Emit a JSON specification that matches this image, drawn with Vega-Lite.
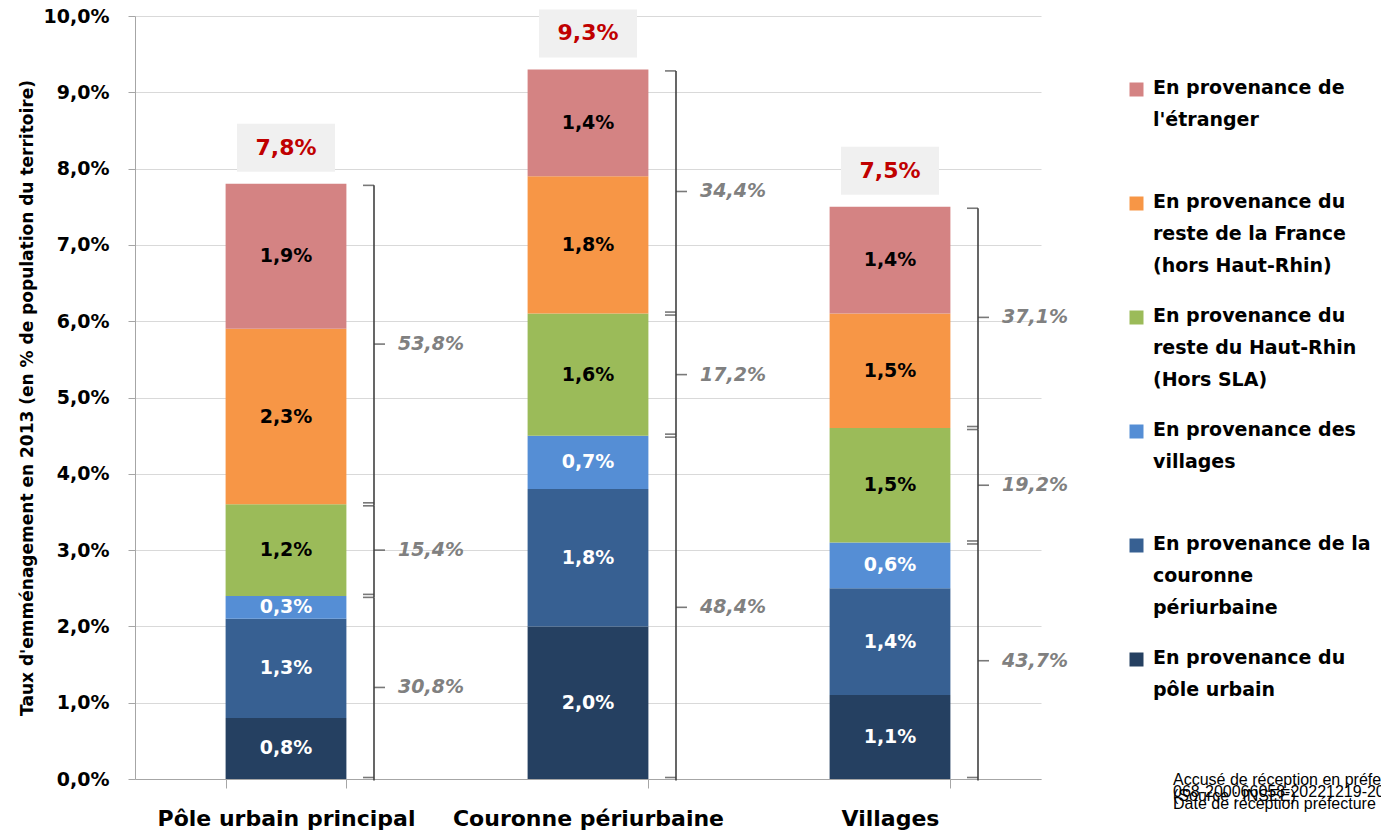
{
  "$schema": "https://vega.github.io/schema/vega-lite/v6.json",
  "width": 906,
  "height": 763,
  "autosize": {"type": "none"},
  "padding": {"left": 135, "top": 16, "right": 340, "bottom": 53},
  "background": "white",
  "title": {
    "text": ["Accusé de réception en préfecture", "068-200066058-20221219-2022-12-DE", "Date de réception préfecture"],
    "subtitle": "(Source : INSEE)",
    "orient": "bottom",
    "anchor": "end",
    "frame": "group",
    "align": "left",
    "baseline": "top",
    "dx": 132,
    "dy": -57,
    "offset": 0,
    "font": "Liberation Sans",
    "fontSize": 16,
    "fontWeight": "normal",
    "color": "black",
    "lineHeight": 12,
    "subtitleFont": "Liberation Sans",
    "subtitleFontSize": 16,
    "subtitleColor": "black",
    "subtitleLineHeight": 12,
    "subtitlePadding": -24
  },
  "datasets": {
    "seg": [
      {"cat": "Pôle urbain principal", "src": "En provenance du|pôle urbain", "ord": 1, "v": 0.008},
      {"cat": "Pôle urbain principal", "src": "En provenance de la|couronne|périurbaine", "ord": 2, "v": 0.013},
      {"cat": "Pôle urbain principal", "src": "En provenance des|villages", "ord": 3, "v": 0.003},
      {"cat": "Pôle urbain principal", "src": "En provenance du|reste du Haut-Rhin|(Hors SLA)", "ord": 4, "v": 0.012},
      {"cat": "Pôle urbain principal", "src": "En provenance du|reste de la France|(hors Haut-Rhin)", "ord": 5, "v": 0.023},
      {"cat": "Pôle urbain principal", "src": "En provenance de|l'étranger", "ord": 6, "v": 0.019},
      {"cat": "Couronne périurbaine", "src": "En provenance du|pôle urbain", "ord": 1, "v": 0.020},
      {"cat": "Couronne périurbaine", "src": "En provenance de la|couronne|périurbaine", "ord": 2, "v": 0.018},
      {"cat": "Couronne périurbaine", "src": "En provenance des|villages", "ord": 3, "v": 0.007},
      {"cat": "Couronne périurbaine", "src": "En provenance du|reste du Haut-Rhin|(Hors SLA)", "ord": 4, "v": 0.016},
      {"cat": "Couronne périurbaine", "src": "En provenance du|reste de la France|(hors Haut-Rhin)", "ord": 5, "v": 0.018},
      {"cat": "Couronne périurbaine", "src": "En provenance de|l'étranger", "ord": 6, "v": 0.014},
      {"cat": "Villages", "src": "En provenance du|pôle urbain", "ord": 1, "v": 0.011},
      {"cat": "Villages", "src": "En provenance de la|couronne|périurbaine", "ord": 2, "v": 0.014},
      {"cat": "Villages", "src": "En provenance des|villages", "ord": 3, "v": 0.006},
      {"cat": "Villages", "src": "En provenance du|reste du Haut-Rhin|(Hors SLA)", "ord": 4, "v": 0.015},
      {"cat": "Villages", "src": "En provenance du|reste de la France|(hors Haut-Rhin)", "ord": 5, "v": 0.015},
      {"cat": "Villages", "src": "En provenance de|l'étranger", "ord": 6, "v": 0.014}
    ],
    "br": [
      {"cat": "Pôle urbain principal", "grp": "SLA", "gord": 1, "g": 0.024, "share": 0.308},
      {"cat": "Pôle urbain principal", "grp": "Haut-Rhin", "gord": 2, "g": 0.012, "share": 0.154},
      {"cat": "Pôle urbain principal", "grp": "Extérieur", "gord": 3, "g": 0.042, "share": 0.538},
      {"cat": "Couronne périurbaine", "grp": "SLA", "gord": 1, "g": 0.045, "share": 0.484},
      {"cat": "Couronne périurbaine", "grp": "Haut-Rhin", "gord": 2, "g": 0.016, "share": 0.172},
      {"cat": "Couronne périurbaine", "grp": "Extérieur", "gord": 3, "g": 0.032, "share": 0.344},
      {"cat": "Villages", "grp": "SLA", "gord": 1, "g": 0.031, "share": 0.437},
      {"cat": "Villages", "grp": "Haut-Rhin", "gord": 2, "g": 0.015, "share": 0.192},
      {"cat": "Villages", "grp": "Extérieur", "gord": 3, "g": 0.029, "share": 0.371}
    ],
    "tot": [
      {"cat": "Pôle urbain principal", "total": 0.078},
      {"cat": "Couronne périurbaine", "total": 0.093},
      {"cat": "Villages", "total": 0.075}
    ]
  },
  "config": {
    "locale": {"number": {"decimal": ",", "thousands": " ", "grouping": [3], "currency": ["", " €"]}},
    "font": "DejaVu Sans",
    "view": {"stroke": null}
  },
  "encoding": {
    "x": {
      "field": "cat",
      "type": "nominal",
      "sort": ["Pôle urbain principal", "Couronne périurbaine", "Villages"],
      "scale": {"paddingInner": 0.6, "paddingOuter": 0.3},
      "axis": {
        "title": null,
        "labelAngle": 0,
        "labelFontSize": 22,
        "labelFontWeight": "bold",
        "labelColor": "black",
        "labelPadding": 20,
        "labelLimit": 400,
        "tickBand": "extent",
        "tickSize": 9,
        "tickColor": "#A6A6A6",
        "domainColor": "#A6A6A6",
        "grid": false
      }
    },
    "y": {
      "type": "quantitative",
      "scale": {"domain": [0, 0.1], "nice": false},
      "axis": {
        "values": [0, 0.01, 0.02, 0.03, 0.04, 0.05, 0.06, 0.07, 0.08, 0.09, 0.1],
        "format": ".1%",
        "labelFontSize": 19,
        "labelFontWeight": "bold",
        "labelColor": "black",
        "labelPadding": 19,
        "tickSize": 7,
        "tickColor": "#A6A6A6",
        "domainColor": "#A6A6A6",
        "gridColor": "#D9D9D9",
        "title": "Taux d'emménagement en 2013 (en % de population du territoire)",
        "titleFontSize": 17,
        "titleFontWeight": "bold",
        "titleColor": "black",
        "titlePadding": 7
      }
    }
  },
  "layer": [
    {
      "data": {"name": "seg"},
      "mark": {"type": "bar"},
      "encoding": {
        "y": {"field": "v", "type": "quantitative", "stack": "zero"},
        "order": {"field": "ord", "type": "quantitative"},
        "color": {
          "field": "src",
          "type": "nominal",
          "scale": {
            "domain": [
              "En provenance de|l'étranger",
              "En provenance du|reste de la France|(hors Haut-Rhin)",
              "En provenance du|reste du Haut-Rhin|(Hors SLA)",
              "En provenance des|villages",
              "En provenance de la|couronne|périurbaine",
              "En provenance du|pôle urbain"
            ],
            "range": ["#D48383", "#F79646", "#9BBB59", "#558ED5", "#376092", "#254061"]
          },
          "legend": {
            "orient": "none",
            "legendX": 992,
            "legendY": 64,
            "title": null,
            "padding": 0,
            "symbolType": "square",
            "symbolSize": 196,
            "symbolStrokeWidth": 0,
            "labelFontSize": 19,
            "labelFontWeight": "bold",
            "labelColor": "black",
            "labelOffset": 7,
            "labelLimit": 400,
            "labelBaseline": "top",
            "labelExpr": "split(datum.label, '|')",
            "gridAlign": "all",
            "rowPadding": 30,
            "encode": {"labels": {"update": {"lineHeight": {"value": 32}, "dy": {"value": -11}}}}
          }
        }
      }
    },
    {
      "data": {"name": "seg"},
      "mark": {"type": "text", "fontSize": 19, "fontWeight": "bold", "baseline": "middle", "align": "center"},
      "encoding": {
        "y": {"field": "v", "type": "quantitative", "stack": "zero", "bandPosition": 0.5},
        "order": {"field": "ord", "type": "quantitative"},
        "detail": {"field": "src"},
        "text": {"field": "v", "type": "quantitative", "format": ".1%"},
        "color": {"condition": {"test": "datum.ord <= 3", "value": "white"}, "value": "black"}
      }
    },
    {
      "data": {"name": "br"},
      "mark": {"type": "bar", "width": 1.6, "color": "#404040", "xOffset": 88, "yOffset": 1.5, "y2Offset": -1.5},
      "encoding": {
        "y": {"field": "g", "type": "quantitative", "stack": "zero"},
        "order": {"field": "gord", "type": "quantitative"},
        "detail": {"field": "grp"}
      }
    },
    {
      "data": {"name": "br"},
      "mark": {"type": "tick", "size": 11, "thickness": 1.6, "color": "#404040", "xOffset": 82.5, "yOffset": 1.5},
      "encoding": {
        "y": {"field": "g", "type": "quantitative", "stack": "zero"},
        "order": {"field": "gord", "type": "quantitative"},
        "detail": {"field": "grp"}
      }
    },
    {
      "data": {"name": "br"},
      "mark": {"type": "tick", "size": 11, "thickness": 1.6, "color": "#404040", "xOffset": 82.5, "yOffset": -1.5},
      "encoding": {
        "y": {"field": "g", "type": "quantitative", "stack": "zero", "bandPosition": 0},
        "order": {"field": "gord", "type": "quantitative"},
        "detail": {"field": "grp"}
      }
    },
    {
      "data": {"name": "br"},
      "mark": {"type": "tick", "size": 11, "thickness": 1.6, "color": "#404040", "xOffset": 93.5},
      "encoding": {
        "y": {"field": "g", "type": "quantitative", "stack": "zero", "bandPosition": 0.5},
        "order": {"field": "gord", "type": "quantitative"},
        "detail": {"field": "grp"}
      }
    },
    {
      "data": {"name": "br"},
      "mark": {"type": "text", "fontSize": 19, "fontWeight": "bold", "fontStyle": "italic", "color": "#808080", "align": "left", "baseline": "middle", "xOffset": 112},
      "encoding": {
        "y": {"field": "g", "type": "quantitative", "stack": "zero", "bandPosition": 0.5},
        "order": {"field": "gord", "type": "quantitative"},
        "detail": {"field": "grp"},
        "text": {"field": "share", "type": "quantitative", "format": ".1%"}
      }
    },
    {
      "data": {"name": "tot"},
      "mark": {"type": "tick", "size": 98, "thickness": 48, "color": "#F0F0F0", "opacity": 1, "yOffset": -36},
      "encoding": {
        "y": {"field": "total", "type": "quantitative"}
      }
    },
    {
      "data": {"name": "tot"},
      "mark": {"type": "text", "fontSize": 22, "fontWeight": "bold", "color": "#C00000", "align": "center", "baseline": "middle", "yOffset": -36},
      "encoding": {
        "y": {"field": "total", "type": "quantitative"},
        "text": {"field": "total", "type": "quantitative", "format": ".1%"}
      }
    }
  ]
}
